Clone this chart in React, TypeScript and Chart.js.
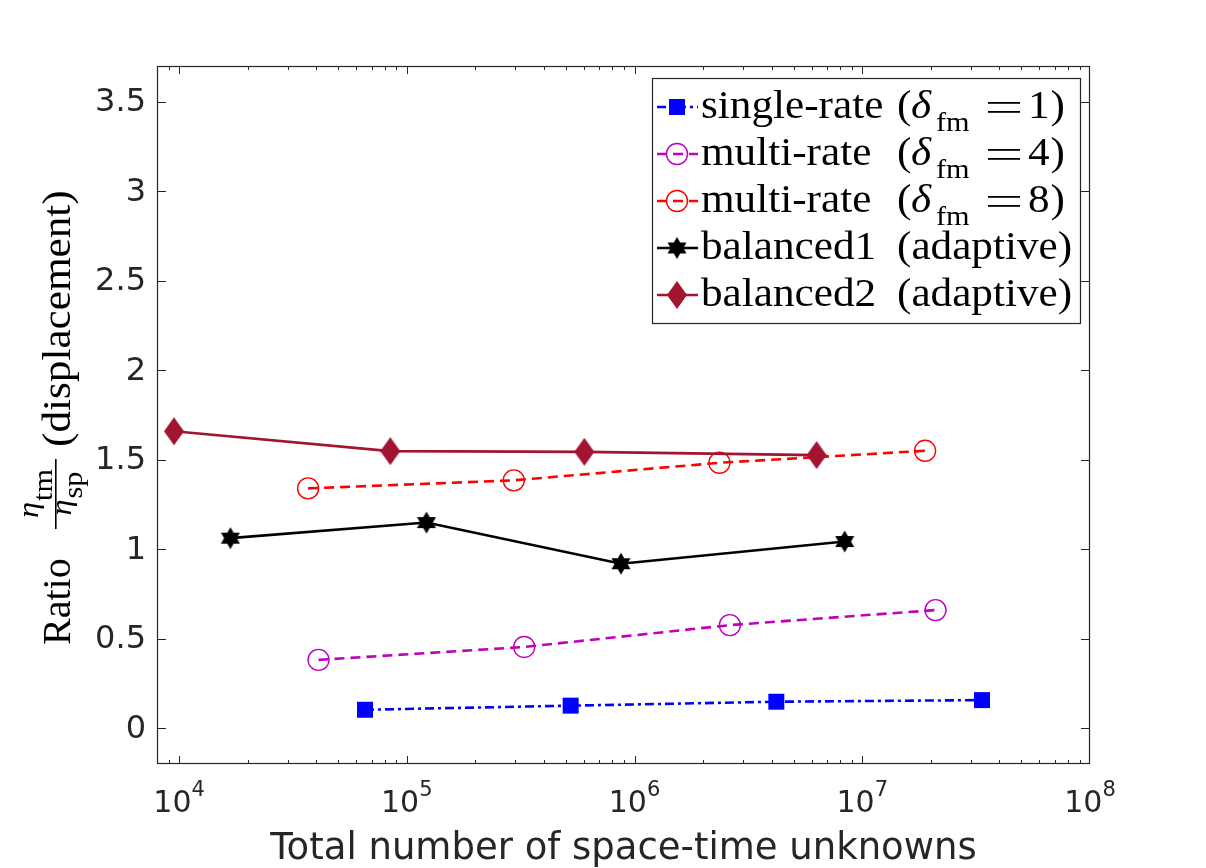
import React, { useEffect, useRef } from "react";
import { Chart, registerables } from "chart.js";

Chart.register(...registerables);

// Ratio of time-marching to space-parallel efficiency versus problem size
const unknownsSingleRate = [65536, 524288, 4194304, 33554432];
const ratioSingleRate = [0.103, 0.126, 0.148, 0.157];

const unknownsMultiRate4 = [40960, 327680, 2621440, 20971520];
const ratioMultiRate4 = [0.382, 0.454, 0.576, 0.66];

const unknownsMultiRate8 = [36864, 294912, 2359296, 18874368];
const ratioMultiRate8 = [1.34, 1.385, 1.483, 1.55];

const unknownsBalanced1 = [16800, 122000, 872000, 8370000];
const ratioBalanced1 = [1.062, 1.149, 0.919, 1.043];

const unknownsBalanced2 = [9500, 84600, 602000, 6300000];
const ratioBalanced2 = [1.659, 1.548, 1.544, 1.526];

const xTickExponents = [4, 5, 6, 7, 8];
const yTickValues = [0, 0.5, 1, 1.5, 2, 2.5, 3, 3.5];
const yTickLabels = ["0", "0.5", "1", "1.5", "2", "2.5", "3", "3.5"];

const xAxisTitle = "Total number of space-time unknowns";

const FONT_SANS = "'DejaVu Sans', 'Noto Sans', sans-serif";
const FONT_TEX = "'Liberation Serif', 'Times New Roman', serif";
const TEX_STRETCH = 1.08;
const AXIS_COLOR = "#262626";

const BLUE = "#0000FF";
const MAGENTA = "#BF00BF";
const RED = "#FF0000";
const BLACK = "#000000";
const DARKRED = "#A2142F";

const DASH_DASHED = [10, 6];
const DASH_DASHDOT = [9, 4, 3, 4];
const LINE_W = 2.6;

function makeDiamond(color: string, w: number, h: number) {
  const c = document.createElement("canvas");
  c.width = w;
  c.height = h;
  const g = c.getContext("2d")!;
  g.fillStyle = color;
  g.beginPath();
  g.moveTo(w / 2, 0);
  g.lineTo(w, h / 2);
  g.lineTo(w / 2, h);
  g.lineTo(0, h / 2);
  g.closePath();
  g.fill();
  return c;
}

function makeHexagram(color: string, w: number, h: number) {
  const c = document.createElement("canvas");
  c.width = w;
  c.height = h;
  const g = c.getContext("2d")!;
  const cx = w / 2;
  const cy = h / 2;
  const R = h / 2 - 0.5;
  const r = R / Math.sqrt(3);
  g.fillStyle = color;
  g.beginPath();
  for (let k = 0; k < 12; k++) {
    const ang = -Math.PI / 2 + (k * Math.PI) / 6;
    const rad = k % 2 === 0 ? R : r;
    const px = cx + rad * Math.cos(ang);
    const py = cy + rad * Math.sin(ang);
    if (k === 0) g.moveTo(px, py);
    else g.lineTo(px, py);
  }
  g.closePath();
  g.fill();
  return c;
}

function toPoints(xs: number[], ys: number[]) {
  return xs.map((x, i) => ({ x, y: ys[i] }));
}

function texText(
  ctx: CanvasRenderingContext2D,
  text: string,
  x: number,
  y: number,
  size: number,
  italic = false,
  stretch = TEX_STRETCH
) {
  ctx.save();
  ctx.font = `${italic ? "italic " : ""}${size}px ${FONT_TEX}`;
  ctx.textAlign = "left";
  ctx.textBaseline = "alphabetic";
  const w = ctx.measureText(text).width * stretch;
  ctx.translate(x, y);
  ctx.scale(stretch, 1);
  ctx.fillText(text, 0, 0);
  ctx.restore();
  return w;
}

function texWidth(ctx: CanvasRenderingContext2D, text: string, size: number, italic = false) {
  ctx.save();
  ctx.font = `${italic ? "italic " : ""}${size}px ${FONT_TEX}`;
  const w = ctx.measureText(text).width * TEX_STRETCH;
  ctx.restore();
  return w;
}

// TeX-style equals sign: two thin bars
function texEquals(ctx: CanvasRenderingContext2D, x: number, base: number, w: number) {
  ctx.fillRect(x, base - 16, w, 1.8);
  ctx.fillRect(x, base - 7, w, 1.8);
}

type LegendEntry = {
  main: string;
  delta?: string;
  tail?: string;
  color: string;
  dash: number[];
  marker: "rect" | "circle" | "star" | "diamond";
};

const legendEntries: LegendEntry[] = [
  { main: "single-rate", delta: "1", color: BLUE, dash: DASH_DASHDOT, marker: "rect" },
  { main: "multi-rate", delta: "4", color: MAGENTA, dash: DASH_DASHED, marker: "circle" },
  { main: "multi-rate", delta: "8", color: RED, dash: DASH_DASHED, marker: "circle" },
  { main: "balanced1", tail: "(adaptive)", color: BLACK, dash: [], marker: "star" },
  { main: "balanced2", tail: "(adaptive)", color: DARKRED, dash: [], marker: "diamond" },
];

export default function App() {
  const canvasRef = useRef<HTMLCanvasElement>(null);

  useEffect(() => {
    document.body.style.margin = "0";
    const canvas = canvasRef.current;
    if (!canvas) return;

    const starImg = makeHexagram(BLACK, 20, 23);
    const diamondImg = makeDiamond(DARKRED, 20, 28);

    const axesPlugin = {
      id: "boxedAxes",
      beforeDatasetsDraw(chart: any) {
        const { ctx, chartArea } = chart;
        const { left, top, right, bottom } = chartArea;
        const xs = chart.scales.x;
        const ys = chart.scales.y;
        ctx.save();
        ctx.strokeStyle = AXIS_COLOR;
        ctx.lineWidth = 1;
        ctx.beginPath();
        // x ticks (major + minor), bottom and top
        for (let e = 3; e <= 8; e++) {
          for (let m = 1; m <= 9; m++) {
            const v = m * Math.pow(10, e);
            if (v < xs.min || v > xs.max) continue;
            const px = Math.round(xs.getPixelForValue(v)) + 0.5;
            if (px <= left + 1 || px >= right - 1) continue;
            const len = m === 1 ? 8 : 4;
            ctx.moveTo(px, bottom);
            ctx.lineTo(px, bottom - len);
            ctx.moveTo(px, top);
            ctx.lineTo(px, top + len);
          }
        }
        // y ticks, left and right
        yTickValues.forEach((v) => {
          const py = Math.round(ys.getPixelForValue(v)) + 0.5;
          ctx.moveTo(left, py);
          ctx.lineTo(left + 9, py);
          ctx.moveTo(right, py);
          ctx.lineTo(right - 9, py);
        });
        ctx.stroke();
        ctx.lineWidth = 1.2;
        ctx.strokeRect(left + 0.5, top + 0.5, right - left - 1, bottom - top - 1);
        ctx.restore();
      },
      afterDraw(chart: any) {
        const { ctx, chartArea } = chart;
        const { left, right } = chartArea;
        const xs = chart.scales.x;
        const ys = chart.scales.y;
        ctx.save();
        ctx.fillStyle = AXIS_COLOR;

        // y tick labels
        ctx.font = `32px ${FONT_SANS}`;
        ctx.textAlign = "right";
        ctx.textBaseline = "middle";
        yTickValues.forEach((v, i) => {
          ctx.fillText(yTickLabels[i], left - 11, ys.getPixelForValue(v) + 1);
        });

        // x tick labels as powers of ten
        ctx.textBaseline = "alphabetic";
        ctx.textAlign = "left";
        xTickExponents.forEach((e) => {
          const px = xs.getPixelForValue(Math.pow(10, e));
          ctx.font = `30px ${FONT_SANS}`;
          const wBase = ctx.measureText("10").width;
          ctx.font = `21px ${FONT_SANS}`;
          const wExp = ctx.measureText(String(e)).width;
          const x0 = px - (wBase + wExp) / 2;
          ctx.font = `30px ${FONT_SANS}`;
          ctx.fillText("10", x0, 812);
          ctx.font = `21px ${FONT_SANS}`;
          ctx.fillText(String(e), x0 + wBase, 796);
        });

        // x axis title
        ctx.font = `37px ${FONT_SANS}`;
        ctx.textAlign = "center";
        ctx.fillText(xAxisTitle, (left + right) / 2, 859);

        // y axis title (rotated, TeX-like)
        ctx.fillStyle = "#000";
        ctx.translate(70, 645);
        ctx.rotate(-Math.PI / 2);
        texText(ctx, "Ratio", 0, 0, 40, false, 1.0);
        // fraction eta_tm / eta_sp
        const barL = 116;
        const barR = 186;
        const barC = (barL + barR) / 2;
        ctx.fillRect(barL, -15, barR - barL, 1.6);
        const numW = texWidth(ctx, "\u03B7", 30, true) + texWidth(ctx, "tm", 28);
        let nx = barC - numW / 2;
        nx += texText(ctx, "\u03B7", nx, -32, 30, true);
        texText(ctx, "tm", nx + 1, -18, 28);
        const denW = texWidth(ctx, "\u03B7", 30, true) + texWidth(ctx, "sp", 28);
        let dx = barC - denW / 2;
        dx += texText(ctx, "\u03B7", dx, 1, 30, true);
        texText(ctx, "sp", dx + 1, 12, 28);
        texText(ctx, "(displacement)", 198, 0, 40);
        ctx.restore();
      },
      afterDatasetsDraw(chart: any) {
        const { ctx } = chart;
        ctx.save();
        // legend box
        const bx = 652;
        const by = 78;
        const bw = 428;
        const bh = 245;
        ctx.fillStyle = "#FFFFFF";
        ctx.fillRect(bx, by, bw, bh);
        ctx.strokeStyle = AXIS_COLOR;
        ctx.lineWidth = 1.2;
        ctx.strokeRect(bx + 0.5, by + 0.5, bw, bh);

        legendEntries.forEach((entry, i) => {
          const ry = 107 + i * 47;
          // line sample
          ctx.save();
          ctx.strokeStyle = entry.color;
          ctx.lineWidth = LINE_W;
          ctx.setLineDash(entry.dash);
          ctx.beginPath();
          ctx.moveTo(657, ry);
          ctx.lineTo(698, ry);
          ctx.stroke();
          ctx.restore();
          // marker
          const mx = 677;
          if (entry.marker === "rect") {
            ctx.fillStyle = entry.color;
            ctx.fillRect(mx - 8, ry - 8, 16, 16);
          } else if (entry.marker === "circle") {
            ctx.strokeStyle = entry.color;
            ctx.lineWidth = 1.4;
            ctx.beginPath();
            ctx.arc(mx, ry, 10.5, 0, Math.PI * 2);
            ctx.stroke();
          } else if (entry.marker === "star") {
            ctx.drawImage(starImg, mx - starImg.width / 2, ry - starImg.height / 2);
          } else {
            ctx.drawImage(diamondImg, mx - diamondImg.width / 2, ry - diamondImg.height / 2);
          }
          // text
          ctx.fillStyle = "#000";
          const base = ry + 11;
          texText(ctx, entry.main, 701, base, 40);
          if (entry.delta) {
            texText(ctx, "(", 897, base, 40);
            texText(ctx, "\u03B4", 911, base, 40, true);
            texText(ctx, "fm", 936, base + 13, 28);
            texEquals(ctx, 988, base, 32);
            const dw = texText(ctx, entry.delta, 1028, base, 40);
            texText(ctx, ")", 1028 + dw + 1, base, 40);
          } else if (entry.tail) {
            texText(ctx, entry.tail, 897, base, 40);
          }
        });
        ctx.restore();
      },
    };

    const chart = new Chart(canvas, {
      type: "line",
      data: {
        datasets: [
          {
            label: "single-rate",
            data: toPoints(unknownsSingleRate, ratioSingleRate),
            borderColor: BLUE,
            backgroundColor: BLUE,
            borderWidth: LINE_W,
            borderDash: DASH_DASHDOT,
            pointStyle: "rect",
            pointRadius: 11.3,
            pointBorderWidth: 0,
            pointBackgroundColor: BLUE,
            order: 4,
          },
          {
            label: "multi-rate 4",
            data: toPoints(unknownsMultiRate4, ratioMultiRate4),
            borderColor: MAGENTA,
            borderWidth: LINE_W,
            borderDash: DASH_DASHED,
            pointStyle: "circle",
            pointRadius: 10.5,
            pointBorderWidth: 1.4,
            pointBorderColor: MAGENTA,
            pointBackgroundColor: "rgba(0,0,0,0)",
            order: 3,
          },
          {
            label: "multi-rate 8",
            data: toPoints(unknownsMultiRate8, ratioMultiRate8),
            borderColor: RED,
            borderWidth: LINE_W,
            borderDash: DASH_DASHED,
            pointStyle: "circle",
            pointRadius: 10.5,
            pointBorderWidth: 1.4,
            pointBorderColor: RED,
            pointBackgroundColor: "rgba(0,0,0,0)",
            order: 2,
          },
          {
            label: "balanced1",
            data: toPoints(unknownsBalanced1, ratioBalanced1),
            borderColor: BLACK,
            borderWidth: LINE_W,
            pointStyle: starImg,
            pointRadius: 11,
            order: 1,
          },
          {
            label: "balanced2",
            data: toPoints(unknownsBalanced2, ratioBalanced2),
            borderColor: DARKRED,
            borderWidth: LINE_W,
            pointStyle: diamondImg,
            pointRadius: 14,
            order: 0,
          },
        ],
      },
      options: {
        animation: false,
        responsive: false,
        devicePixelRatio: 1,
        events: [],
        layout: { padding: { left: 157, top: 66, right: 116, bottom: 104 } },
        plugins: { legend: { display: false }, tooltip: { enabled: false } },
        scales: {
          x: { type: "logarithmic", min: 8000, max: 1e8, display: false },
          y: { type: "linear", min: -0.2, max: 3.7, display: false },
        },
      },
      plugins: [axesPlugin],
    } as any);

    return () => chart.destroy();
  }, []);

  return (
    <div style={{ width: 1206, height: 868, background: "#fff" }}>
      <canvas ref={canvasRef} width={1206} height={868} style={{ display: "block", width: 1206, height: 868 }} />
    </div>
  );
}
